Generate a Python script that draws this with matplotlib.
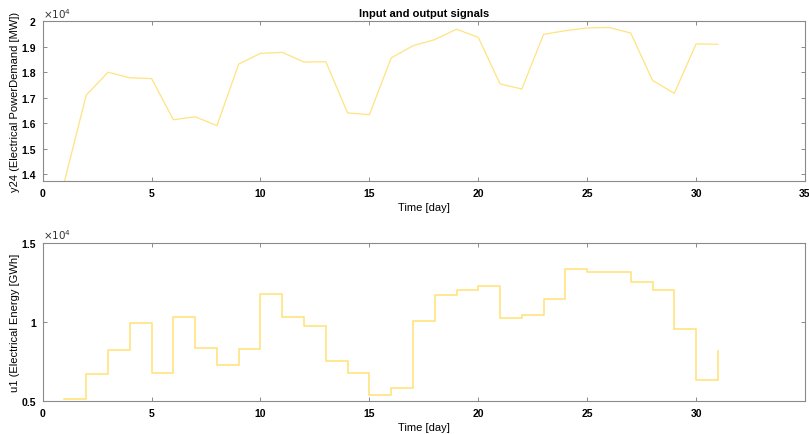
#!/usr/bin/env python3
# -*- coding: utf-8 -*-
"""
Daily input (electrical energy) and output (power demand) signals.
"""

import numpy as np
import matplotlib
matplotlib.use("Agg")
import matplotlib.pyplot as plt
from matplotlib.ticker import FuncFormatter

plt.rcParams['font.family'] = ['Liberation Sans', 'DejaVu Sans']

days = np.arange(1, 32)

# y24: electrical power demand [MW]
power_demand = [13720, 17100, 18000, 17780, 17750, 16130, 16250, 15900,
                18320, 18740, 18780, 18400, 18410, 16400, 16330, 18560,
                19040, 19280, 19690, 19370, 17540, 17340, 19490, 19630,
                19740, 19760, 19540, 17680, 17170, 19110, 19100]

# u1: electrical energy [GWh]
energy = [5170, 6700, 8260, 9940, 6810, 10320, 8380, 7270, 8320, 11760,
          10340, 9750, 7540, 6790, 5380, 5860, 10080, 11700, 12040, 12250,
          10250, 10460, 11430, 13320, 13150, 13170, 12540, 12000, 9540,
          6320, 8150]

LINE = "#ffe37f"
BOX = "#8a8a8a"


def style_axes(ax):
    for s in ax.spines.values():
        s.set_color(BOX)
        s.set_linewidth(0.8)
    ax.tick_params(direction='in', length=3, width=0.7, color=BOX,
                   top=True, right=True, labelsize=7.5, pad=5)
    for lab in ax.get_xticklabels() + ax.get_yticklabels():
        lab.set_fontweight('bold')
    ax.yaxis.set_major_formatter(FuncFormatter(lambda v, p: "%g" % round(v / 1e4, 3)))
    ax.text(0.0, 1.01, r"$\times10^{4}$", transform=ax.transAxes, fontsize=7.5,
            color="#333333", ha='left', va='bottom')


fig = plt.figure(figsize=(8.09, 4.35), dpi=100)

ax1 = fig.add_axes([0.0528, 0.5816, 0.9422, 0.3671])
ax1.plot(days, power_demand, color=LINE, lw=0.9)
ax1.set_xlim(0, 35)
ax1.set_ylim(13725, 20000)
ax1.set_xticks(np.arange(0, 36, 5))
ax1.set_yticks(np.arange(14000, 20001, 1000))
style_axes(ax1)
ax1.set_title("Input and output signals", fontsize=8, fontweight='bold', pad=4)
ax1.set_xlabel("Time [day]", fontsize=8, labelpad=3)
ax1.set_ylabel("y24 (Electrical PowerDemand [MW])", fontsize=8, labelpad=1)

ax2 = fig.add_axes([0.0528, 0.0752, 0.9422, 0.3646])
ax2.step(days, energy, where='post', color=LINE, lw=1.2)
ax2.set_xlim(0, 35)
ax2.set_ylim(5000, 15000)
ax2.set_xticks(np.arange(0, 31, 5))
ax2.set_yticks([5000, 10000, 15000])
style_axes(ax2)
ax2.set_xlabel("Time [day]", fontsize=8, labelpad=3)
ax2.set_ylabel("u1 (Electrical Energy [GWh]", fontsize=8, labelpad=1)

fig.savefig("out.png", dpi=100)
